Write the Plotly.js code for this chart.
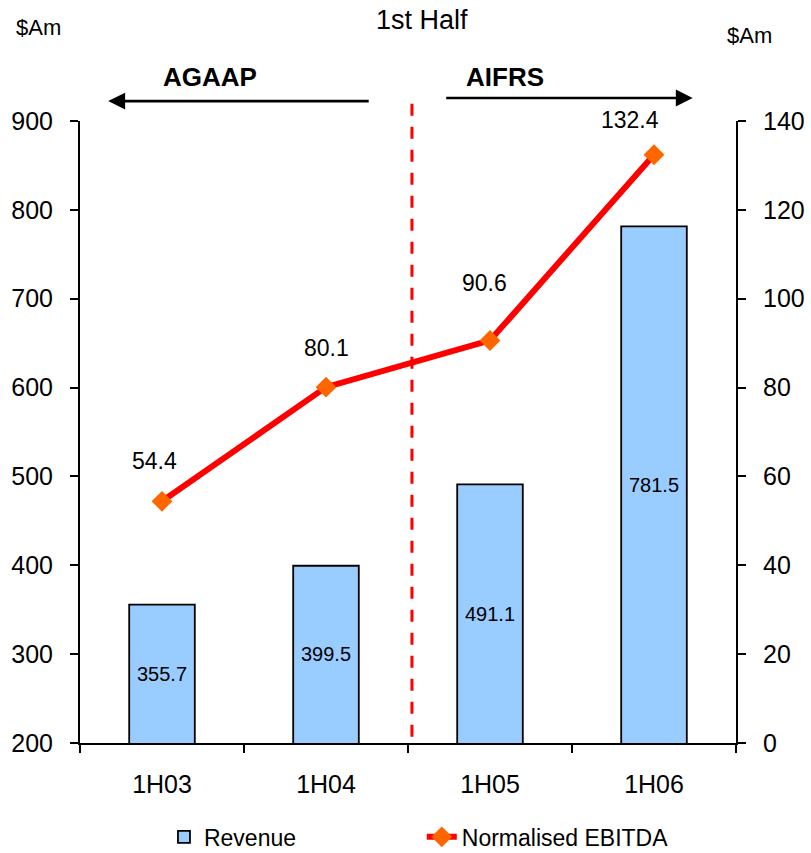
<!DOCTYPE html>
<html>
<head>
<meta charset="utf-8">
<script src="https://cdn.plot.ly/plotly-3.0.1.min.js"></script>
<style>
  html, body { margin: 0; padding: 0; background: #ffffff; }
  #chart { width: 811px; height: 853px; }
</style>
</head>
<body>
<div id="chart"></div>
<script>
// Half-year periods
const periods = ['1H03', '1H04', '1H05', '1H06'];
// Revenue, $Am (left axis)
const revenue = [355.7, 399.5, 491.1, 781.5];
// Normalised EBITDA, $Am (right axis)
const ebitda = [54.4, 80.1, 90.6, 132.4];
// Axis ticks
const leftTicks = [200, 300, 400, 500, 600, 700, 800, 900];
const rightTicks = [0, 20, 40, 60, 80, 100, 120, 140];

const FONT = '"Liberation Sans", Arial, sans-serif';
const leftMin = leftTicks[0];

const revenueTrace = {
  type: 'bar',
  name: 'Revenue',
  x: periods,
  y: revenue,
  yaxis: 'y',
  width: 0.4,
  marker: { color: '#99CCFF', line: { color: '#000000', width: 1.8 } },
  textposition: 'none',
  legend: 'legend'
};

const ebitdaTrace = {
  type: 'scatter',
  mode: 'lines+markers',
  name: 'Normalised EBITDA',
  x: periods,
  y: ebitda,
  yaxis: 'y2',
  line: { color: '#FF0000', width: 6 },
  marker: { symbol: 'diamond', size: 16, color: '#FF6600', line: { width: 0 } },
  cliponaxis: false,
  legend: 'legend2'
};

// Revenue values written in the middle of the visible part of each bar
const revenueLabels = revenue.map((v, i) => ({
  x: periods[i], y: (leftMin + v) / 2, xref: 'x', yref: 'y',
  text: v.toFixed(1), showarrow: false,
  font: { family: FONT, size: 20, color: '#000000' }
}));

// EBITDA values above the points (per-label nudges)
const labelShift = [[-8, 40], [0, 39], [-6, 57], [-24, 35]];
const ebitdaLabels = ebitda.map((v, i) => ({
  x: periods[i], y: v, xref: 'x', yref: 'y2',
  text: v.toFixed(1), showarrow: false,
  xshift: labelShift[i][0], yshift: labelShift[i][1],
  font: { family: FONT, size: 23, color: '#000000' }
}));

// free text placed relative to the plot area
function note(x, y, text, size) {
  return { x: x, y: y, xref: 'paper', yref: 'paper', xanchor: 'center', yanchor: 'middle',
           text: text, showarrow: false, font: { family: FONT, size: size, color: '#000000' } };
}

const annotations = revenueLabels.concat(ebitdaLabels, [
  // unit labels
  note(-0.064, 1.151, '$Am', 22),
  note(1.021, 1.138, '$Am', 22),
  // accounting standard headings
  note(0.198, 1.070, '<b>AGAAP</b>', 26),
  note(0.648, 1.070, '<b>AIFRS</b>', 26),
  // arrows
  { x: 0.043, y: 1.032, xref: 'paper', yref: 'paper', ax: 262, ay: 0, axref: 'pixel', ayref: 'pixel',
    text: '', showarrow: true, arrowhead: 2, arrowsize: 1.3, arrowwidth: 2.6, arrowcolor: '#000000' },
  { x: 0.934, y: 1.037, xref: 'paper', yref: 'paper', ax: -248, ay: 0, axref: 'pixel', ayref: 'pixel',
    text: '', showarrow: true, arrowhead: 2, arrowsize: 1.3, arrowwidth: 2.6, arrowcolor: '#000000' }
]);

const legendBase = {
  orientation: 'h',
  xanchor: 'left',
  y: -0.151, yanchor: 'middle',
  font: { family: FONT, size: 23, color: '#000000' },
  bgcolor: 'rgba(0,0,0,0)'
};

const layout = {
  width: 811,
  height: 853,
  paper_bgcolor: '#ffffff',
  plot_bgcolor: '#ffffff',
  margin: { l: 80, r: 75, t: 121, b: 110, autoexpand: false },
  title: {
    text: '1st Half',
    x: 0.52, xanchor: 'center',
    y: 0.977, yanchor: 'middle',
    font: { family: FONT, size: 27, color: '#000000' }
  },
  showlegend: true,
  legend: Object.assign({ x: 0.128 }, legendBase),
  legend2: Object.assign({ x: 0.521 }, legendBase),
  xaxis: {
    type: 'category',
    range: [-0.5, 3.5],
    showline: true, linecolor: '#000000', linewidth: 2,
    ticks: 'outside', tickson: 'boundaries', ticklen: 8, tickwidth: 2, tickcolor: '#000000',
    ticklabelstandoff: 18,
    showgrid: false, zeroline: false,
    tickfont: { family: FONT, size: 25, color: '#000000' }
  },
  yaxis: {
    range: [200, 900],
    tickvals: leftTicks,
    ticktext: leftTicks.map(String),
    showline: true, linecolor: '#000000', linewidth: 2,
    ticks: 'outside', ticklen: 8, tickwidth: 2, tickcolor: '#000000',
    ticklabelstandoff: 12,
    showgrid: false, zeroline: false,
    tickfont: { family: FONT, size: 25, color: '#000000' }
  },
  yaxis2: {
    range: [0, 140],
    tickvals: rightTicks,
    ticktext: rightTicks.map(String),
    overlaying: 'y',
    side: 'right',
    showline: true, linecolor: '#000000', linewidth: 2,
    ticks: 'outside', ticklen: 8, tickwidth: 2, tickcolor: '#000000',
    ticklabelstandoff: 12,
    showgrid: false, zeroline: false,
    tickfont: { family: FONT, size: 25, color: '#000000' }
  },
  shapes: [
    // divider between the two accounting regimes
    { type: 'line', xref: 'paper', yref: 'paper', x0: 0.506, x1: 0.506, y0: 0.01, y1: 1.039,
      line: { color: '#FF0000', width: 3, dash: '12px,11px' }, layer: 'above' }
  ],
  annotations: annotations,
  hovermode: false
};

Plotly.newPlot('chart', [revenueTrace, ebitdaTrace], layout, { staticPlot: true, displayModeBar: false });
</script>
</body>
</html>
